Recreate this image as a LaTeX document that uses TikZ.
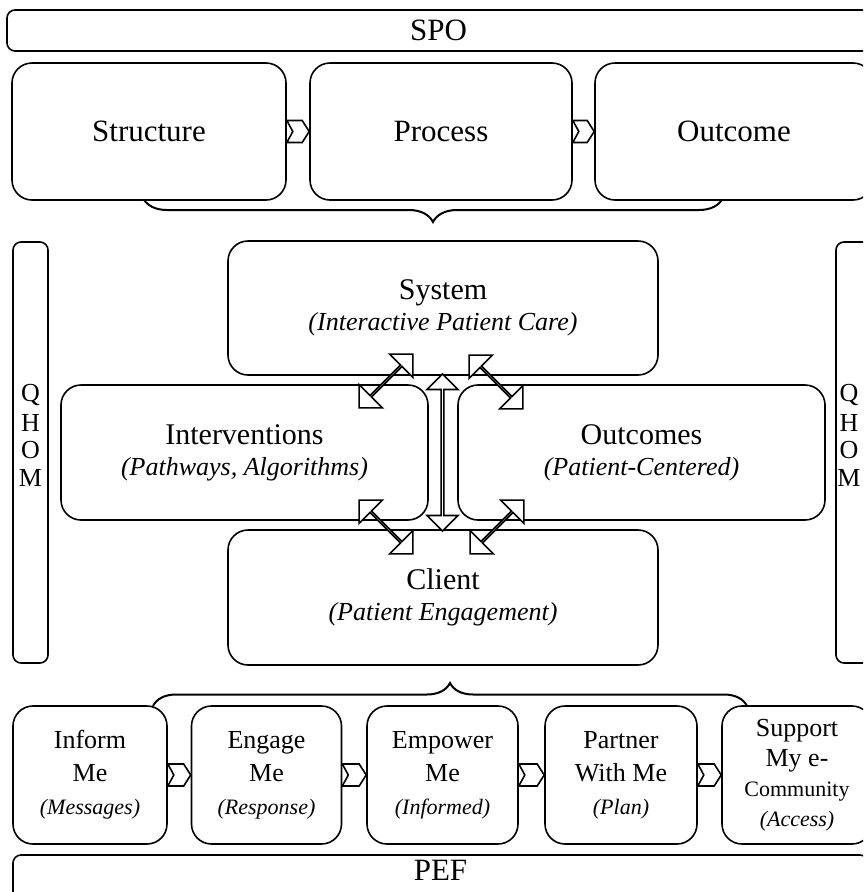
\documentclass[tikz,border=0pt]{standalone}
\usepackage{fontspec}
\setmainfont{Liberation Serif}
\usetikzlibrary{shapes.arrows,decorations.pathreplacing,calc}

% small italic second line inside a box
\newcommand\subline[1]{{\fontsize{26}{30}\selectfont\itshape #1}}
\newcommand\smallsub[1]{{\fontsize{22}{30}\selectfont\itshape #1}}

% notched chevron filling the gap between two boxes
\newcommand\chevron[2]{%
  \draw[chev] let \p1=(#1.east), \p2=(#2.west) in
    (\x1,\y1+11pt) -- (\x2-7pt,\y1+11pt) -- (\x2,\y1) --
    (\x2-7pt,\y1-11pt) -- (\x1,\y1-11pt) -- (\x1+6pt,\y1) -- cycle;}

\begin{document}
\begin{tikzpicture}[x=1pt,y=-1pt,
  box/.style={draw,line width=1.6pt,fill=white,rounded corners=20pt,
    inner sep=0pt,align=center},
  bar/.style={draw,line width=1.6pt,fill=white,rounded corners=8pt,inner sep=0pt},
  big/.style={font=\fontsize{31}{32}\selectfont},
  mid/.style={font=\fontsize{30}{31}\selectfont},
  low/.style={font=\fontsize{26}{33}\selectfont},
  letter/.style={inner sep=0pt,font=\fontsize{26}{28}\selectfont},
  chev/.style={draw,line width=1.6pt,fill=white,line join=miter},
  darr/.style={shape=double arrow,draw,line width=1.6pt,fill=white,
    inner sep=0pt,double arrow head extend=11pt,minimum width=33pt,
    minimum height=76pt},
  brc/.style={draw,line width=2pt,decorate},
]
\clip (0,0) rectangle (863,892);

% ---------- braces (drawn first, box edges cover their ends) ----------
\coordinate (tb1) at (143,198);
\coordinate (tb2) at (723,198);
\coordinate (bb1) at (153,706);
\coordinate (bb2) at (747,706);
\draw[brc,decoration={brace,amplitude=24pt,mirror}] (tb1) -- (tb2);
\draw[brc,decoration={brace,amplitude=23pt}] (bb1) -- (bb2);

% ---------- SPO band ----------
\node[bar,minimum width=863pt,minimum height=41pt,big] (spo) at (438.5,30.5) {SPO};

\node[box,minimum width=274pt,minimum height=137pt,big] (str) at (149,131.5) {Structure};
\node[box,minimum width=262pt,minimum height=137pt,big] (pro) at (441,131.5) {Process};
\node[box,minimum width=278pt,minimum height=137pt,big] (out) at (734,131.5) {Outcome};
\chevron{str}{pro}
\chevron{pro}{out}

% ---------- QHOM side bars ----------
\node[bar,minimum width=35pt,minimum height=421pt] (qleft) at (30.5,452.5) {};
\node[bar,minimum width=35pt,minimum height=421pt] (qright) at (853.5,452.5) {};
\foreach \ch [count=\i] in {Q,H,O,M}{
  \node[letter] (ql\i) at (30.5,{395+27.5*(\i-1)}) {\ch};
  \node[letter] (qr\i) at (849,{395+27.5*(\i-1)}) {\ch};
}

% ---------- central model ----------
\node[box,minimum width=430pt,minimum height=134pt,mid] (sys) at (443,308)
  {System\\\subline{(Interactive Patient Care)}};
\node[box,minimum width=367pt,minimum height=135pt,mid] (int) at (244.5,452.5)
  {Interventions\\\subline{(Pathways, Algorithms)}};
\node[box,minimum width=367pt,minimum height=135pt,mid] (oc) at (641.5,452.5)
  {Outcomes\\\subline{(Patient-Centered)}};
\node[box,minimum width=430pt,minimum height=135pt,mid] (cli) at (443,597.5)
  {Client\\\subline{(Patient Engagement)}};

% two-way links between the parts
\node[darr,rotate=45] (sysint) at (386,381) {};
\node[darr,rotate=-45] (sysoc) at (496,382) {};
\node[darr,rotate=-45] (intcli) at (386,527) {};
\node[darr,rotate=45] (occli) at (497,527) {};
\node[darr,rotate=90,minimum height=157pt,minimum width=31pt,
  double arrow head extend=8pt] (syscli) at (442.5,452.5) {};

% ---------- PEF steps ----------
\node[box,minimum width=154pt,minimum height=138pt,low] (inf) at (90,775)
  {Inform\\Me\\\smallsub{(Messages)}};
\node[box,minimum width=150pt,minimum height=138pt,low] (eng) at (266.5,775)
  {Engage\\Me\\\smallsub{(Response)}};
\node[box,minimum width=151pt,minimum height=138pt,low] (emp) at (442.5,775)
  {Empower\\Me\\\smallsub{(Informed)}};
\node[box,minimum width=152pt,minimum height=138pt,low] (par) at (621,775)
  {Partner\\With Me\\\smallsub{(Plan)}};
\node[box,minimum width=150pt,minimum height=138pt,font=\fontsize{26}{30}\selectfont] (sup) at (797,775)
  {Support\\My e-\\{\fontsize{22}{30}\selectfont Community}\\\smallsub{(Access)}};
\chevron{inf}{eng}
\chevron{eng}{emp}
\chevron{emp}{par}
\chevron{par}{sup}

% ---------- PEF band ----------
\node[bar,minimum width=855pt,minimum height=50pt] (pef) at (440.5,880) {};
\node[inner sep=0pt,big] (peft) at (440.5,870) {PEF};
\end{tikzpicture}
\end{document}
